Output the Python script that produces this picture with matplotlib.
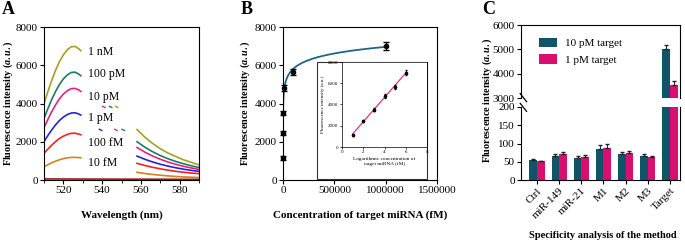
import numpy as np
import matplotlib.pyplot as plt
from matplotlib.patches import Rectangle
from matplotlib.ticker import FormatStrFormatter, MultipleLocator

plt.rcParams["font.family"] = ["Liberation Serif", "DejaVu Serif"]
plt.rcParams["mathtext.fontset"] = "custom"
plt.rcParams["mathtext.it"] = "Liberation Serif:italic:bold"
plt.rcParams["mathtext.rm"] = "Liberation Serif:bold"
plt.rcParams["axes.linewidth"] = 0.8

# ---- panel A: emission spectra ----
wl_left = [510, 512, 514, 516, 518, 520, 522, 524, 526, 528, 529]
wl_right = [558, 562, 566, 570, 574, 578, 582, 586, 590]
left_1nM = [3990, 4620, 5215, 5740, 6195, 6545, 6805, 6965, 6985, 6860, 6755]
left_100pM = [3220, 3730, 4210, 4635, 5000, 5285, 5490, 5620, 5640, 5535, 5450]
left_10pM = [2735, 3170, 3575, 3935, 4250, 4490, 4665, 4775, 4790, 4705, 4630]
left_1pM = [2005, 2325, 2620, 2885, 3115, 3290, 3420, 3500, 3515, 3450, 3395]
left_100fM = [1395, 1615, 1825, 2010, 2170, 2290, 2380, 2440, 2445, 2400, 2365]
left_10fM = [690, 800, 900, 985, 1060, 1120, 1160, 1180, 1185, 1170, 1160]
right_1nM = [2640, 2245, 1915, 1635, 1410, 1230, 1055, 925, 790]
right_100pM = [2000, 1720, 1480, 1280, 1110, 970, 850, 745, 650]
right_10pM = [1700, 1460, 1255, 1085, 940, 820, 715, 630, 550]
right_1pM = [1250, 1085, 945, 825, 725, 640, 565, 505, 450]
right_100fM = [870, 760, 665, 585, 515, 455, 405, 365, 330]
right_10fM = [400, 340, 290, 250, 215, 185, 160, 145, 130]
blank_wl = [510, 530, 550, 570, 590]
blank_val = [55, 50, 45, 40, 35]
spec_labels = ["1 nM", "100 pM", "10 pM", "1 pM", "100 fM", "10 fM"]
spec_colors = ["#a3a220", "#1b7d5e", "#e0247e", "#2323d8", "#f02222", "#d6801f"]
# small leftover pieces of the curves between the labels
frag_wl = [540.9, 544.4, 547.5, 539.2, 547.1, 550.9]
frag_val = [3820, 3820, 3820, 2620, 2620, 2620]
frag_col = ["#e0247e", "#1b7d5e", "#a3a220", "#2323d8", "#e0247e", "#1b7d5e"]

# ---- panel B: calibration ----
conc_fM = [10, 100, 1000, 10000, 100000, 1000000]
log_conc = [1, 2, 3, 4, 5, 6]
intensity = [1150, 2450, 3520, 4800, 5650, 7000]
intensity_err = [80, 90, 110, 150, 180, 200]

# ---- panel C: specificity ----
categories = ["Ctrl", "miR-149", "miR-21", "M1", "M2", "M3", "Target"]
high_target = [54, 66, 60, 86, 70, 65, 5000]
high_err = [3, 6, 7, 11, 6, 5, 170]
low_target = [51, 70, 63, 89, 74, 63, 3540]
low_err = [2, 6, 5, 11, 5, 4, 150]

W, H = 685, 243
fig = plt.figure(figsize=(W / 100, H / 100), dpi=100)


def box(x0, y0, x1, y1):
    # pixel box (top-left origin) -> figure fraction rect
    return [x0 / W, (H - y1) / H, (x1 - x0) / W, (y1 - y0) / H]


tick_kw = dict(direction="out", length=3, width=0.8, labelsize=8, pad=1.5)
ylab = r"Fluorescence intensity ($\mathit{a.u.}$)"

# A
axA = fig.add_axes(box(44, 27, 199, 180))
lefts = [left_1nM, left_100pM, left_10pM, left_1pM, left_100fM, left_10fM]
rights = [right_1nM, right_100pM, right_10pM, right_1pM, right_100fM, right_10fM]
for lv, rv, c in zip(lefts, rights, spec_colors):
    axA.plot(wl_left, lv, color=c, lw=1.2)
    axA.plot(wl_right, rv, color=c, lw=1.2)
axA.plot(blank_wl, blank_val, color="#9b1b1b", lw=1.2)
for w, v, c in zip(frag_wl, frag_val, frag_col):
    axA.plot([w - 0.6, w + 0.6], [v + 30, v - 30], color=c, lw=1.0)
for lab, yv in zip(spec_labels, [6709, 5542, 4356, 3226, 1950, 873]):
    axA.text(532.8, yv, lab, fontsize=8.5, va="center", ha="left")
axA.set_xlim(510, 590)
axA.set_ylim(0, 8000)
axA.set_xticks([520, 540, 560, 580])
axA.xaxis.set_minor_locator(MultipleLocator(10))
axA.set_yticks([0, 2000, 4000, 6000, 8000])
axA.tick_params(**tick_kw)
axA.tick_params(which="minor", direction="out", length=2, width=0.6)
axA.set_xlabel("Wavelength (nm)", fontsize=8, fontweight="bold")
axA.set_ylabel(ylab, fontsize=7.3, fontweight="bold")
axA.xaxis.set_label_coords(0.5, -0.2)
axA.yaxis.set_label_coords(-0.19, 0.5)
fig.text(2 / W, 1 - 9 / H, "A", fontsize=13, fontweight="bold", va="center")

# B
axB = fig.add_axes(box(283, 27, 437, 180))
slope, icpt = np.polyfit(log_conc, intensity, 1)
xs = np.logspace(0, 6, 300)
axB.plot(xs, slope * np.log10(xs) + icpt, color="#1f6680", lw=1.3)
axB.errorbar(conc_fM, intensity, yerr=intensity_err, fmt="o", ms=3,
             color="black", ecolor="black", elinewidth=0.8, capsize=2,
             clip_on=False, zorder=3)
axB.set_xlim(0, 1500000)
axB.set_ylim(0, 8000)
axB.set_xticks([0, 500000, 1000000, 1500000])
axB.xaxis.set_major_formatter(FormatStrFormatter("%d"))
axB.set_yticks([0, 2000, 4000, 6000, 8000])
axB.tick_params(**tick_kw)
axB.set_xlabel("Concentration of target miRNA (fM)", fontsize=8,
               fontweight="bold")
axB.set_ylabel(ylab, fontsize=7.3, fontweight="bold")
axB.xaxis.set_label_coords(0.5, -0.2)
axB.yaxis.set_label_coords(-0.2, 0.5)
fig.text(241 / W, 1 - 10 / H, "B", fontsize=13, fontweight="bold", va="center")

# inset
fig.add_artist(Rectangle((317 / W, (H - 179) / H), 110 / W, 117 / H,
                         transform=fig.transFigure, facecolor="white",
                         edgecolor="#333333", lw=0.8, zorder=2))
axI = fig.add_axes(box(342, 62, 427, 147))
axI.set_zorder(3)
lx = np.array([1, 6])
axI.plot(lx, slope * lx + icpt, color="#e8307e", lw=0.9)
axI.errorbar(log_conc, intensity, yerr=intensity_err, fmt="o", ms=1.6,
             color="black", elinewidth=0.6, capsize=1)
axI.set_xlim(0, 8)
axI.set_ylim(0, 8000)
axI.set_xticks([0, 2, 4, 6, 8])
axI.set_yticks([0, 2000, 4000, 6000, 8000])
axI.tick_params(direction="out", length=1.5, width=0.5, labelsize=3.6, pad=1)
for s in axI.spines.values():
    s.set_linewidth(0.5)
axI.set_xlabel("Logarithmic concentration of\ntarget miRNA (fM)",
               fontsize=3.8, labelpad=2, linespacing=1.1)
axI.set_ylabel("Fluorescence intensity (a.u.)", fontsize=3.6, labelpad=2)

# C
axCu = fig.add_axes(box(521, 25, 680, 98))
axCl = fig.add_axes(box(521, 107, 680, 180))
x = np.arange(len(categories))
bw = 0.34
teal, pink = "#11546a", "#d90f6f"
for ax in (axCu, axCl):
    ax.bar(x - bw / 2, high_target, bw, color=teal, label="10 pM target")
    ax.bar(x + bw / 2, low_target, bw, color=pink, label="1 pM target")
    ax.errorbar(x - bw / 2, high_target, yerr=[np.zeros(7), high_err],
                fmt="none", ecolor="#222222", elinewidth=0.7, capsize=1.5)
    ax.errorbar(x + bw / 2, low_target, yerr=[np.zeros(7), low_err],
                fmt="none", ecolor="#222222", elinewidth=0.7, capsize=1.5)
    ax.set_xlim(-0.72, 6.45)
    ax.tick_params(**tick_kw)
axCu.set_ylim(3000, 6000)
axCu.set_yticks([3000, 4000, 5000, 6000])
axCu.spines["bottom"].set_visible(False)
axCu.tick_params(axis="x", bottom=False, labelbottom=False)
axCl.set_ylim(0, 200)
axCl.set_yticks([0, 50, 100, 150, 200])
axCl.spines["top"].set_visible(False)
axCl.set_xticks(x)
axCl.set_xticklabels(categories, rotation=45, ha="right",
                     rotation_mode="anchor", fontsize=8)
axCu.legend(loc="upper left", bbox_to_anchor=(0.08, 0.9), frameon=False,
            fontsize=8, handlelength=1.6, handleheight=0.9,
            labelspacing=0.55, handletextpad=0.7, borderpad=0)
# break marks
axCu.plot([-0.005, 0.035], [0.06, -0.05], transform=axCu.transAxes,
          color="black", lw=0.9, clip_on=False)
axCl.plot([-0.005, 0.035], [1.05, 0.94], transform=axCl.transAxes,
          color="black", lw=0.9, clip_on=False)
fig.text(487 / W, 1 - 100 / H, ylab, rotation=90, fontsize=7.3,
         fontweight="bold", ha="center", va="center")
fig.text(603 / W, 1 - 235 / H, "Specificity analysis of the method",
         fontsize=7.5, fontweight="bold", ha="center", va="center")
fig.text(482 / W, 1 - 9 / H, "C", fontsize=13, fontweight="bold", va="center")

fig.savefig("out.png", dpi=100)
